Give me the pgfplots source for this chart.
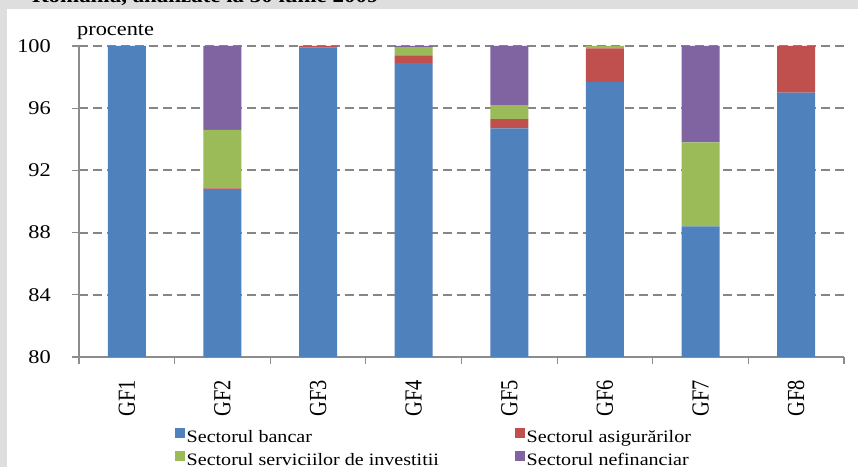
\documentclass[border=0pt]{standalone}
\usepackage{pgfplots}
\pgfplotsset{compat=1.18}
\usepackage{graphicx}
\usepackage{fontspec}
\setmainfont{Liberation Serif}
\definecolor{cblue}{HTML}{4F81BD}
\definecolor{cred}{HTML}{C0504D}
\definecolor{cgreen}{HTML}{9BBB59}
\definecolor{cpurple}{HTML}{8064A2}
\definecolor{bggray}{RGB}{222,222,222}
\definecolor{gridgray}{RGB}{134,134,134}
\definecolor{axgray}{RGB}{140,140,140}
\newcommand{\sx}[1]{\scalebox{1.15}[1]{#1}}
\newcommand{\sv}[1]{\scalebox{1}[1.2]{#1}}
\begin{document}
\begin{tikzpicture}[x=1bp,y=1bp]
\clip (0,0) rectangle (858,467);
\fill[bggray] (0,0) rectangle (858,467);
\fill[white] (7,0) rectangle (858,458);
\node[anchor=base west, inner sep=0pt, font=\bfseries\fontsize{20}{24}\selectfont] at (32,464) {\sx{România, analizate la 30 iunie 2009}};
\node[anchor=base west, inner sep=0pt, font=\fontsize{19.5}{24}\selectfont] at (77,431) {\sx{procente}};
\begin{axis}[
  at={(79bp,110bp)}, anchor=south west,
  scale only axis, width=765bp, height=311bp,
  ybar stacked, bar width=38bp,
  xmin=-0.5, xmax=7.5, ymin=80, ymax=100,
  ytick={80,84,88,92,96,100},
  yticklabel={\sx{\pgfmathprintnumber{\tick}}},
  xtick={0,...,7},
  xticklabels={\sv{GF1},\sv{GF2},\sv{GF3},\sv{GF4},\sv{GF5},\sv{GF6},\sv{GF7},\sv{GF8}},
  extra x ticks={-0.5,0.5,1.5,2.5,3.5,4.5,5.5,6.5,7.5},
  extra x tick labels={},
  extra x tick style={major tick length=7bp, grid=none},
  major tick length=7bp,
  x tick style={draw=none},
  extra x tick style={x tick style={draw=axgray, line width=1.2bp}},
  y tick style={draw=axgray, line width=1.2bp},
  tick align=outside,
  axis x line*=bottom, axis y line*=left,
  axis line style={draw=axgray, line width=1.2bp, -},
  ymajorgrids,
  grid style={draw=gridgray, line width=1.9bp, dash pattern=on 9bp off 5bp},
  ticklabel style={font=\fontsize{19.5}{24}\selectfont},
  xticklabel style={font=\fontsize{20.5}{24}\selectfont},
  /pgf/number format/assume math mode=true,
  yticklabel style={inner sep=0pt, anchor=east, xshift=-21bp},
  xticklabel style={inner sep=0pt, yshift=-16bp, rotate=90, anchor=east},
  legend columns=2,
  legend style={draw=none, fill=none, at={(0.1255,-0.229)}, anchor=north west,
    font=\fontsize{17.5}{21}\selectfont, inner sep=0pt, row sep=5bp,
    nodes={inner sep=1.5bp}},
  legend cell align=left,
  clip=true,
]
\addplot+[fill=cblue, draw=none, legend image code/.code={\fill[cblue] (0bp,-1bp) rectangle (10bp,9bp);}]
  coordinates {(0,100) (1,90.8) (2,99.9) (3,98.9) (4,94.7) (5,97.7) (6,88.4) (7,97.0)};
\addplot+[fill=cred, draw=none, legend image code/.code={\fill[cred] (0bp,-1bp) rectangle (10bp,9bp);}]
  coordinates {(0,0) (1,0.05) (2,0.1) (3,0.5) (4,0.6) (5,2.15) (6,0) (7,3.0)};
\addplot+[fill=cgreen, draw=none, legend image code/.code={\fill[cgreen] (0bp,-1bp) rectangle (10bp,9bp);}]
  coordinates {(0,0) (1,3.75) (2,0) (3,0.5) (4,0.9) (5,0.15) (6,5.4) (7,0)};
\addplot+[fill=cpurple, draw=none, legend image code/.code={\fill[cpurple] (0bp,-1bp) rectangle (10bp,9bp);}]
  coordinates {(0,0) (1,5.4) (2,0) (3,0.1) (4,3.8) (5,0) (6,6.2) (7,0)};
\addlegendentry{\makebox[327bp][l]{\sx{Sectorul bancar}}}
\addlegendentry{\sx{Sectorul asigurărilor}}
\addlegendentry{\sx{Sectorul serviciilor de investitii}}
\addlegendentry{\sx{Sectorul nefinanciar}}
\end{axis}
\end{tikzpicture}
\end{document}
